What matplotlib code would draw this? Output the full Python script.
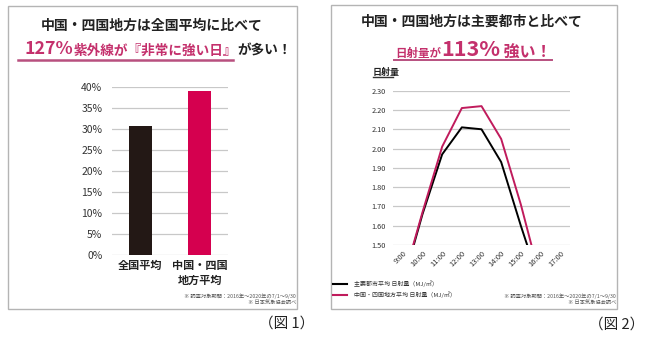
import matplotlib
matplotlib.use("Agg")
import matplotlib.pyplot as plt
from matplotlib.patches import Rectangle
from matplotlib.lines import Line2D
import numpy as np

plt.rcParams["font.family"] = ["Noto Sans CJK JP", "DejaVu Sans"]

W, H = 650, 338
PINK = "#c4306c"; BAR_PINK = "#d5004f"; DARK = "#231815"; LINE_PINK = "#c01b5c"; GRID = "#c8c8c8"

# ---- data ----
groups = ["全国平均", "中国・四国\n地方平均"]
share = [30.8, 39.1]                      # % of "very strong UV" days
hours = ["9:00", "10:00", "11:00", "12:00", "13:00", "14:00", "15:00", "16:00", "17:00"]
city_avg = [1.30, 1.66, 1.97, 2.11, 2.10, 1.93, 1.60, 1.29, np.nan]
chushikoku_avg = [1.31, 1.67, 2.01, 2.21, 2.22, 2.05, 1.71, 1.32, np.nan]

fig = plt.figure(figsize=(W / 100, H / 100), dpi=100)

def fx(x): return x / W
def fy(y): return 1 - y / H

def seq(parts, x, y):
    r = fig.canvas.get_renderer()
    for s, size, color in parts:
        t = fig.text(fx(x), fy(y), s, fontsize=size, color=color, fontweight="bold",
                     ha="left", va="baseline")
        x = t.get_window_extent(r).x1
    return x

# ---- frames ----
for x0, y0, x1, y1 in [(8, 6, 297, 309), (331, 5, 617, 309)]:
    fig.patches.append(Rectangle((fx(x0), fy(y1)), fx(x1 - x0), (y1 - y0) / H,
                                 transform=fig.transFigure, fill=False, ec="#b4b4b4", lw=1))

# ---- Fig 1 ----
fig.text(fx(152), fy(25.5), "中国・四国地方は全国平均に比べて", fontsize=10, fontweight="bold",
         color="#222", ha="center", va="center")
seq([("127%", 12.8, PINK), ("紫外線が『非常に強い日』", 9.8, PINK), ("が多い！", 9.8, "#222")], 25, 54.5)
fig.add_artist(Line2D([fx(18), fx(233)], [fy(59.5), fy(59.5)], color="#b8507f", lw=1.8))

ax1 = fig.add_axes([fx(112), fy(255), fx(116), (255 - 87.3) / H])
x = np.arange(len(groups))
ax1.bar(x, share, width=0.39, color=[DARK, BAR_PINK], zorder=3)
ax1.set_ylim(0, 40); ax1.set_xlim(-0.48, 1.48)
ax1.set_yticks(np.arange(0, 41, 5))
ax1.set_yticklabels([f"{v}%" for v in range(0, 41, 5)], fontsize=7.5, color="#333")
ax1.set_xticks(x); ax1.set_xticklabels(groups, fontsize=8, fontweight="bold", color="#222", linespacing=1.2)
ax1.grid(axis="y", color=GRID, lw=0.9, zorder=0)
for s in ax1.spines.values(): s.set_visible(False)
ax1.tick_params(length=0, pad=7)
ax1.tick_params(axis="x", pad=3)
fig.text(fx(296), fy(296), "※ 調査対象期間：2016年～2020年の7/1～9/30", fontsize=3.8, color="#555", ha="right", va="center")
fig.text(fx(296), fy(303), "※ 日本気象協会調べ", fontsize=3.8, color="#555", ha="right", va="center")
fig.text(fx(314), fy(324), "（図 1）", fontsize=10.5, color="#222", ha="right", va="center")

# ---- Fig 2 ----
fig.text(fx(472), fy(21.7), "中国・四国地方は主要都市と比べて", fontsize=10, fontweight="bold",
         color="#222", ha="center", va="center")
end = seq([("日射量が", 8.3, PINK), ("113%", 15.5, PINK), (" 強い！", 11.5, PINK)], 395, 56.5)
fig.add_artist(Line2D([fx(394), fx(end)], [fy(60), fy(60)], color="#b8507f", lw=1.4))
fig.text(fx(373), fy(72), "日射量", fontsize=6.5, fontweight="bold", color="#222", ha="left", va="center")
fig.add_artist(Line2D([fx(373), fx(393)], [fy(77), fy(77)], color="#333", lw=1))

ax2 = fig.add_axes([fx(393), fy(245), fx(177), 154.3 / H])
xi = np.arange(len(hours))
ax2.plot(xi, city_avg, color="black", lw=1.4, zorder=3)
ax2.plot(xi, chushikoku_avg, color=LINE_PINK, lw=1.4, zorder=3)
ax2.set_ylim(1.5, 2.3); ax2.set_xlim(-0.5, 8.5)
yt = np.arange(1.5, 2.31, 0.1)
ax2.set_yticks(yt); ax2.set_yticklabels([f"{v:.2f}" for v in yt], fontsize=5.3, color="#333")
ax2.set_xticks(xi); ax2.set_xticklabels(hours, fontsize=5.5, rotation=45, ha="right",
                                        rotation_mode="anchor", color="#333")
ax2.grid(axis="y", color=GRID, lw=0.9, zorder=0)
for s in ax2.spines.values(): s.set_visible(False)
ax2.tick_params(length=0, pad=5)
ax2.tick_params(axis="x", pad=3)

fig.add_artist(Line2D([fx(333), fx(347)], [fy(284), fy(284)], color="black", lw=1.5))
fig.add_artist(Line2D([fx(333), fx(347)], [fy(295), fy(295)], color=LINE_PINK, lw=1.5))
fig.text(fx(354), fy(284), "主要都市平均 日射量（MJ/㎡）", fontsize=4.3, color="#333", ha="left", va="center")
fig.text(fx(354), fy(295), "中国・四国地方平均 日射量（MJ/㎡）", fontsize=4.3, color="#333", ha="left", va="center")
fig.text(fx(616), fy(296), "※ 調査対象期間：2016年～2020年の7/1～9/30", fontsize=3.8, color="#555", ha="right", va="center")
fig.text(fx(616), fy(303), "※ 日本気象協会調べ", fontsize=3.8, color="#555", ha="right", va="center")
fig.text(fx(644), fy(325), "（図 2）", fontsize=10.5, color="#222", ha="right", va="center")

fig.savefig("out.png", dpi=100, facecolor="white")
